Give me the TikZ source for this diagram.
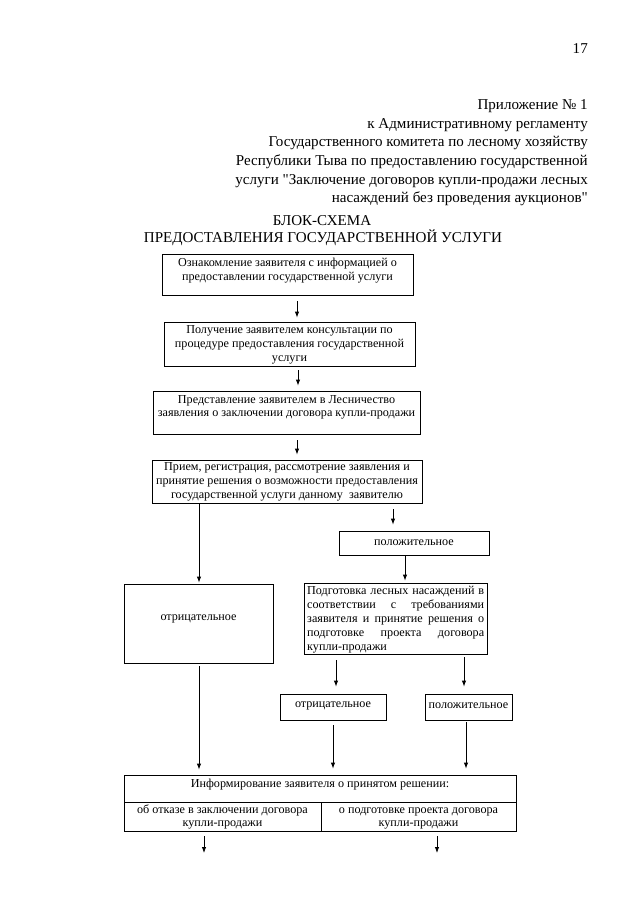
\documentclass[tikz,border=0pt]{standalone}
\usepackage{fontspec}
\setmainfont{Liberation Serif}[Ligatures=TeXOff]
\usetikzlibrary{calc,fit,arrows.meta}
\begin{document}
\begin{tikzpicture}[x=0.93pt,y=-0.93pt,
  box/.style={draw, line width=0.7pt, inner sep=0pt},
  txt/.style={font=\fontsize{11.3}{13}\selectfont, align=center, inner sep=0pt, anchor=north},
  word/.style={font=\fontsize{11.3}{13}\selectfont, inner sep=0pt, anchor=center},
  hdr/.style={font=\fontsize{14}{17}\selectfont, inner sep=0pt, anchor=base east},
  ttl/.style={font=\fontsize{14}{17}\selectfont, inner sep=0pt, anchor=base},
  arr/.style={line width=0.7pt, -{Latex[length=5.5pt,width=4pt]}},
  ln/.style={line width=0.7pt}]
\useasboundingbox (0,0) rectangle (640,905);
\fill[white] (0,0) rectangle (640,905);

% header
\node[hdr] (h0) at (588,53) {17};
\node[hdr] (h1) at (588,109) {Приложение № 1};
\node[hdr] (h2) at (588,128) {к Административному регламенту};
\node[hdr] (h3) at (588,146.5) {Государственного комитета по лесному хозяйству};
\node[hdr] (h4) at (588,165) {Республики Тыва по предоставлению государственной};
\node[hdr] (h5) at (588,184) {услуги "Заключение договоров купли-продажи лесных};
\node[hdr] (h6) at (588,202.5) {насаждений без проведения аукционов"};
\node[ttl] (t1) at (322,225) {БЛОК-СХЕМА};
\node[ttl] (t2) at (323,242) {ПРЕДОСТАВЛЕНИЯ ГОСУДАРСТВЕННОЙ УСЛУГИ};

% boxes
\node[box, fit={(162,254)(413,295)}] (B1) {};
\node[txt] (T1) at (287.5,256.3) {\strut Ознакомление заявителя с информацией о\\предоставлении государственной услуги};
\node[box, fit={(164,322)(415,366)}] (B2) {};
\node[txt] (T2) at (289.5,323.7) {\strut Получение заявителем консультации по\\процедуре предоставления государственной\\услуги};
\node[box, fit={(153,391)(420,434)}] (B3) {};
\node[txt] (T3) at (286.5,393) {\strut Представление заявителем в Лесничество\\заявления о заключении договора купли-продажи};
\node[box, fit={(152,460)(422,503)}] (B4) {};
\node[txt] (T4) at (287,460.8) {\strut Прием, регистрация, рассмотрение заявления и\\принятие решения о возможности предоставления\\государственной услуги данному\ \ заявителю};

\node[box, fit={(339,531)(489,555)}] (P1) {};
\node[word] (TP1) at (414,543) {положительное};
\node[box, fit={(124,584)(273,663)}] (N1) {};
\node[word] (TN1) at (198.5,619) {отрицательное};
\node[box, fit={(304,583)(487,654)}] (R1) {};
\node[txt, anchor=north west, align=left] (TR1) at (307,584.5)
  {\strut\makebox[164.6pt][s]{Подготовка лесных насаждений в}\\
   \makebox[164.6pt][s]{соответствии с требованиями}\\
   \makebox[164.6pt][s]{заявителя и принятие решения о}\\
   \makebox[164.6pt][s]{подготовке проекта договора}\\
   купли-продажи};
\node[box, fit={(280,694)(386,720)}] (N2) {};
\node[word] (TN2) at (333,706) {отрицательное};
\node[box, fit={(425,694)(512,720)}] (P2) {};
\node[word] (TP2) at (468.5,706) {положительное};

\node[box, fit={(124,775)(516,802)}] (I0) {};
\node[txt] (TI0) at (320,777) {\strut Информирование заявителя о принятом решении:};
\node[box, fit={(124,802)(321,831)}] (IL) {};
\node[txt] (TIL) at (222.5,803) {\strut об отказе в заключении договора\\купли-продажи};
\node[box, fit={(321,802)(516,831)}] (IR) {};
\node[txt] (TIR) at (418.5,803) {\strut о подготовке проекта договора\\купли-продажи};

\coordinate (e1) at (204,853);
\coordinate (e2) at (437,853);

% connectors
\draw[arr] ($(B1.south)+(9.5,6)$) -- ($(B2.north)+(7.5,-4)$);
\draw[arr] ($(B2.south)+(8.5,4)$) -- ($(B3.north)+(11.5,-5)$);
\draw[arr] ($(B3.south)+(10.5,6)$) -- ($(B4.north)+(10,-5)$);
\draw[arr] ($(B4.south)+(106,6)$) -- ($(P1.north)+(-21,-6)$);
\draw[arr] ($(B4.south)+(-88,0)$) -- ($(N1.north)+(0.5,-1)$);
\draw[arr] ($(P1.south)+(-9,0)$) -- ($(R1.north)+(9.5,-2)$);
\draw[arr] ($(N1.south)+(0.5,3)$) -- ($(I0.north)+(-121,-5)$);
\draw[arr] ($(R1.south)+(-59.5,6)$) -- ($(N2.north)+(3,-7)$);
\draw[arr] ($(R1.south)+(68.5,3)$) -- ($(P2.north)+(-4.5,-7)$);
\draw[arr] ($(N2.south)+(0,5)$) -- ($(I0.north)+(13,-6)$);
\draw[arr] ($(P2.south)+(-2.5,2)$) -- ($(I0.north)+(146,-6)$);
\draw[arr] ($(IL.south)+(-18.5,5)$) -- (e1);
\draw[arr] ($(IR.south)+(18.5,5)$) -- (e2);
\end{tikzpicture}
\end{document}
